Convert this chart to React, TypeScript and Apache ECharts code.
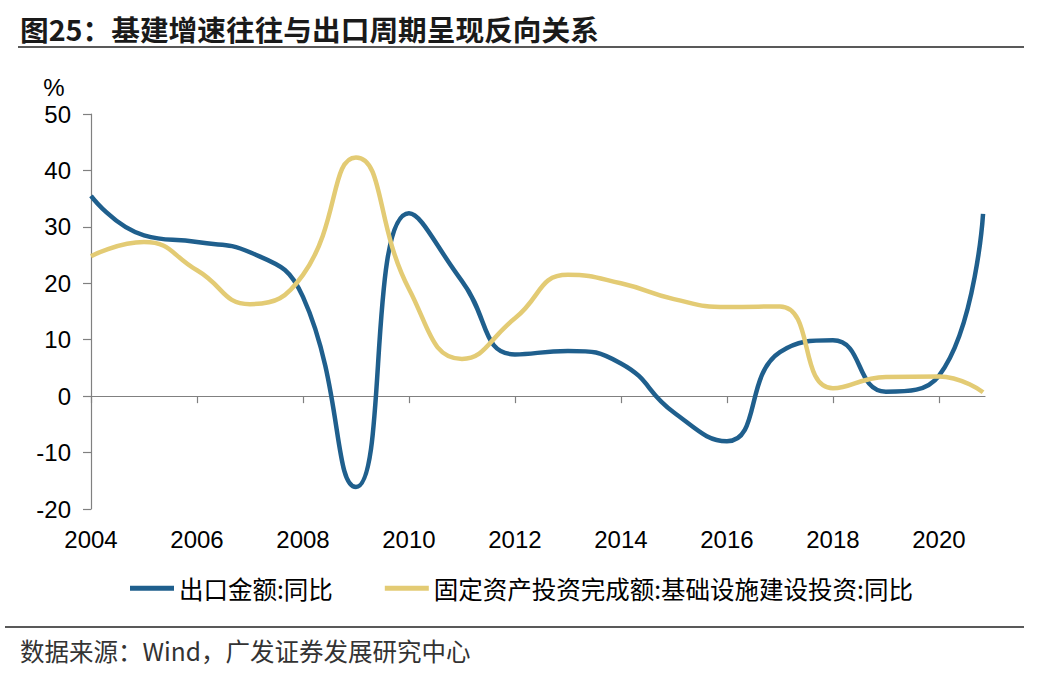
import React, { useEffect, useRef } from "react";
import * as echarts from "echarts";

// Observation dates (year-end unless month given)
const dates: string[] = [
  "2004", "2005", "2006", "2007", "2008", "2009", "2010", "2011", "2012",
  "2013", "2014", "2015", "2016", "2017", "2018", "2019", "2020", "2021-10",
];
// 出口金额:同比 (%)
const exportYoY: number[] = [
  35.5, 28.5, 27.3, 25.5, 17.6, -16.1, 32.4, 20.4, 7.4, 8.0, 5.8, -2.9, -8.0,
  7.8, 9.9, 0.8, 3.6, 32.3,
];
// 固定资产投资完成额:基础设施建设投资:同比 (%)
const infraYoY: number[] = [
  24.8, 27.3, 22.3, 16.3, 21.5, 42.3, 19.0, 6.6, 13.8, 21.5, 20.0, 17.2, 15.8,
  15.9, 1.4, 3.4, 3.5, 0.7,
];
const xTickLabels: number[] = [2004, 2006, 2008, 2010, 2012, 2014, 2016, 2018, 2020];
const yTicks = { min: -20, max: 50, interval: 10 };

const seriesNames = ["出口金额:同比", "固定资产投资完成额:基础设施建设投资:同比"];
const titleText = "图25：基建增速往往与出口周期呈现反向关系";
const sourceText = "数据来源：Wind，广发证券发展研究中心";

// convert "YYYY" / "YYYY-MM" to axis position (year-end aligned)
const toPos = (d: string): number => {
  const [y, m] = d.split("-");
  const month = m ? parseInt(m, 10) : 12;
  return parseInt(y, 10) + (month - 12) / 12;
};

const CJK = "'Noto Sans CJK SC', sans-serif";
const LAT = "'Liberation Sans', Arial, sans-serif";
const SMOOTH = 0.5;

export default function App() {
  const ref = useRef<HTMLDivElement>(null);
  useEffect(() => {
    if (!ref.current) return;
    const chart = echarts.init(ref.current, undefined, { renderer: "svg" });
    const xs = dates.map(toPos);
    const xMin = xTickLabels[0];
    const xMax = 2020.87;
    chart.setOption({
      animation: false,
      backgroundColor: "#ffffff",
      grid: { left: 91, right: 53, top: 114, bottom: 164, containLabel: false },
      legend: {
        left: 125,
        top: 571,
        icon: "rect",
        itemWidth: 44,
        itemHeight: 5,
        itemGap: 52,
        textStyle: { fontSize: 24.5, color: "#000", fontFamily: CJK },
        data: seriesNames,
      },
      xAxis: [
        {
          type: "value",
          min: xMin,
          max: xMax,
          interval: 2,
          position: "bottom",
          axisLine: { show: true, onZero: true, lineStyle: { color: "#808080", width: 1.2 } },
          axisTick: {
            show: true,
            length: 7,
            customValues: xTickLabels,
            lineStyle: { color: "#808080", width: 1.2 },
          },
          axisLabel: { show: false },
          splitLine: { show: false },
        },
        {
          type: "value",
          min: xMin,
          max: xMax,
          interval: 2,
          position: "bottom",
          axisLine: { show: false, onZero: false },
          axisTick: { show: false },
          axisLabel: {
            show: true,
            customValues: xTickLabels,
            margin: 18,
            fontSize: 24,
            color: "#000",
            fontFamily: LAT,
            formatter: (v: number) => String(Math.round(v)),
          },
          splitLine: { show: false },
        },
      ],
      yAxis: {
        type: "value",
        min: yTicks.min,
        max: yTicks.max,
        interval: yTicks.interval,
        axisLine: { show: true, lineStyle: { color: "#808080", width: 1.2 } },
        axisTick: { show: true, inside: false, length: 8, lineStyle: { color: "#808080", width: 1.2 } },
        axisLabel: { margin: 20, fontSize: 24, color: "#000", fontFamily: LAT },
        splitLine: { show: false },
      },
      series: [
        {
          name: seriesNames[0],
          type: "line",
          xAxisIndex: 0,
          data: xs.map((x, i) => [x, exportYoY[i]]),
          smooth: SMOOTH,
          showSymbol: false,
          symbol: "none",
          color: "#1F5F8D",
          lineStyle: { color: "#1F5F8D", width: 4.5 },
        },
        {
          name: seriesNames[1],
          type: "line",
          xAxisIndex: 0,
          data: xs.map((x, i) => [x, infraYoY[i]]),
          smooth: SMOOTH,
          showSymbol: false,
          symbol: "none",
          color: "#E3CB74",
          lineStyle: { color: "#E3CB74", width: 4.5 },
        },
      ],
      graphic: [
        {
          type: "text",
          style: {
            x: 20,
            y: 28,
            text: titleText,
            font: `bold 28.7px ${CJK}`,
            fill: "#1a1a1a",
            align: "left",
            verticalAlign: "middle",
          },
        },
        {
          type: "line",
          shape: { x1: 18, y1: 47, x2: 1024, y2: 47 },
          style: { stroke: "#222", lineWidth: 1.5 },
        },
        {
          type: "text",
          style: {
            x: 54,
            y: 87,
            text: "%",
            font: `24px ${LAT}`,
            fill: "#000",
            align: "center",
            verticalAlign: "middle",
          },
        },
        {
          type: "line",
          shape: { x1: 5, y1: 627, x2: 1024, y2: 627 },
          style: { stroke: "#222", lineWidth: 1.5 },
        },
        {
          type: "text",
          style: {
            x: 20,
            y: 650,
            text: sourceText,
            font: `24.5px ${CJK}`,
            fill: "#333",
            align: "left",
            verticalAlign: "middle",
          },
        },
      ],
    });
    return () => chart.dispose();
  }, []);
  return (
    <div
      ref={ref}
      style={{ position: "fixed", left: 0, top: 0, width: 1038, height: 673, background: "#fff" }}
    />
  );
}
